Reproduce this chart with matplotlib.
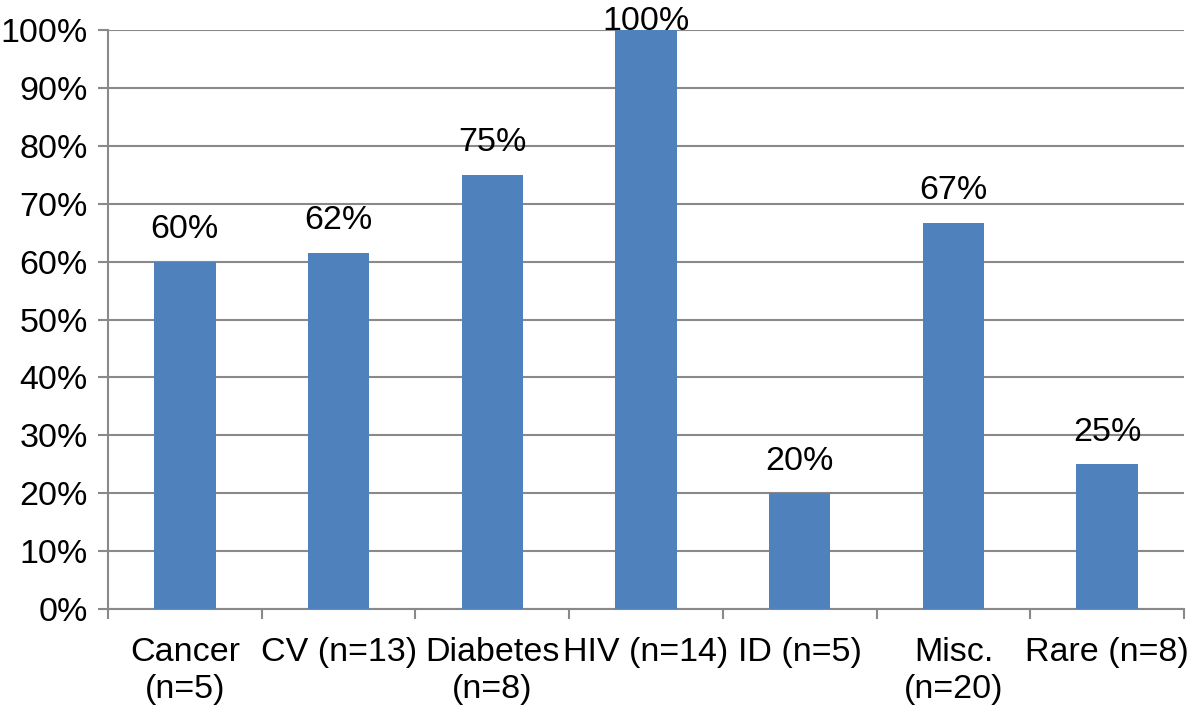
import matplotlib

matplotlib.use("Agg", force=True)
import matplotlib.pyplot as plt
import numpy as np
from matplotlib.ticker import FuncFormatter, MultipleLocator


categories = [
    "Cancer\n(n=5)",
    "CV (n=13)",
    "Diabetes\n(n=8)",
    "HIV (n=14)",
    "ID (n=5)",
    "Misc.\n(n=20)",
    "Rare (n=8)",
]
values = [60.0, 61.5, 75.0, 100.0, 20.0, 66.7, 25.0]
value_labels = ["60%", "62%", "75%", "100%", "20%", "67%", "25%"]

BAR_COLOR = "#4f81bd"
GRID_COLOR = "#898989"
FONT_SIZE = 24.5

plt.rcParams["font.family"] = ["Liberation Sans", "DejaVu Sans"]

fig = plt.figure(figsize=(12, 7.14), dpi=100)
ax = fig.add_axes([0.09, 0.147, 0.8967, 0.811])

x = np.arange(len(categories))
ax.bar(x, values, width=0.4, color=BAR_COLOR, zorder=3)

for xi, v, lab in zip(x, values, value_labels):
    # labels at the top of the scale are pushed down onto the bar, as Excel does
    offset = 17 if v < 100 else 0
    ax.annotate(lab, (xi, v), xytext=(0, offset), textcoords="offset points",
                ha="center", va="baseline", fontsize=FONT_SIZE, zorder=4,
                annotation_clip=False)

ax.set_xlim(-0.5, len(categories) - 0.5)
ax.set_ylim(0, 100)
ax.yaxis.set_major_locator(MultipleLocator(10))
ax.yaxis.set_major_formatter(FuncFormatter(lambda v, _: "{:.0f}%".format(v)))
ax.yaxis.grid(True, color=GRID_COLOR, linewidth=1.5, zorder=0)
ax.set_axisbelow(True)

# category labels sit between the boundary ticks
ax.set_xticks(x)
ax.set_xticklabels(categories, fontsize=FONT_SIZE, linespacing=1.25)
ax.tick_params(axis="x", length=0, pad=20)
ax.set_xticks(np.arange(len(categories) + 1) - 0.5, minor=True)
ax.tick_params(axis="x", which="minor", length=7.5, width=1.5, color=GRID_COLOR)
ax.tick_params(axis="y", labelsize=FONT_SIZE, length=7.5, width=1.5, color=GRID_COLOR, pad=7)

for side in ("top", "right"):
    ax.spines[side].set_visible(False)
for side in ("left", "bottom"):
    ax.spines[side].set_color(GRID_COLOR)
    ax.spines[side].set_linewidth(1.5)

fig.savefig("out.png", dpi=100, facecolor="white")
